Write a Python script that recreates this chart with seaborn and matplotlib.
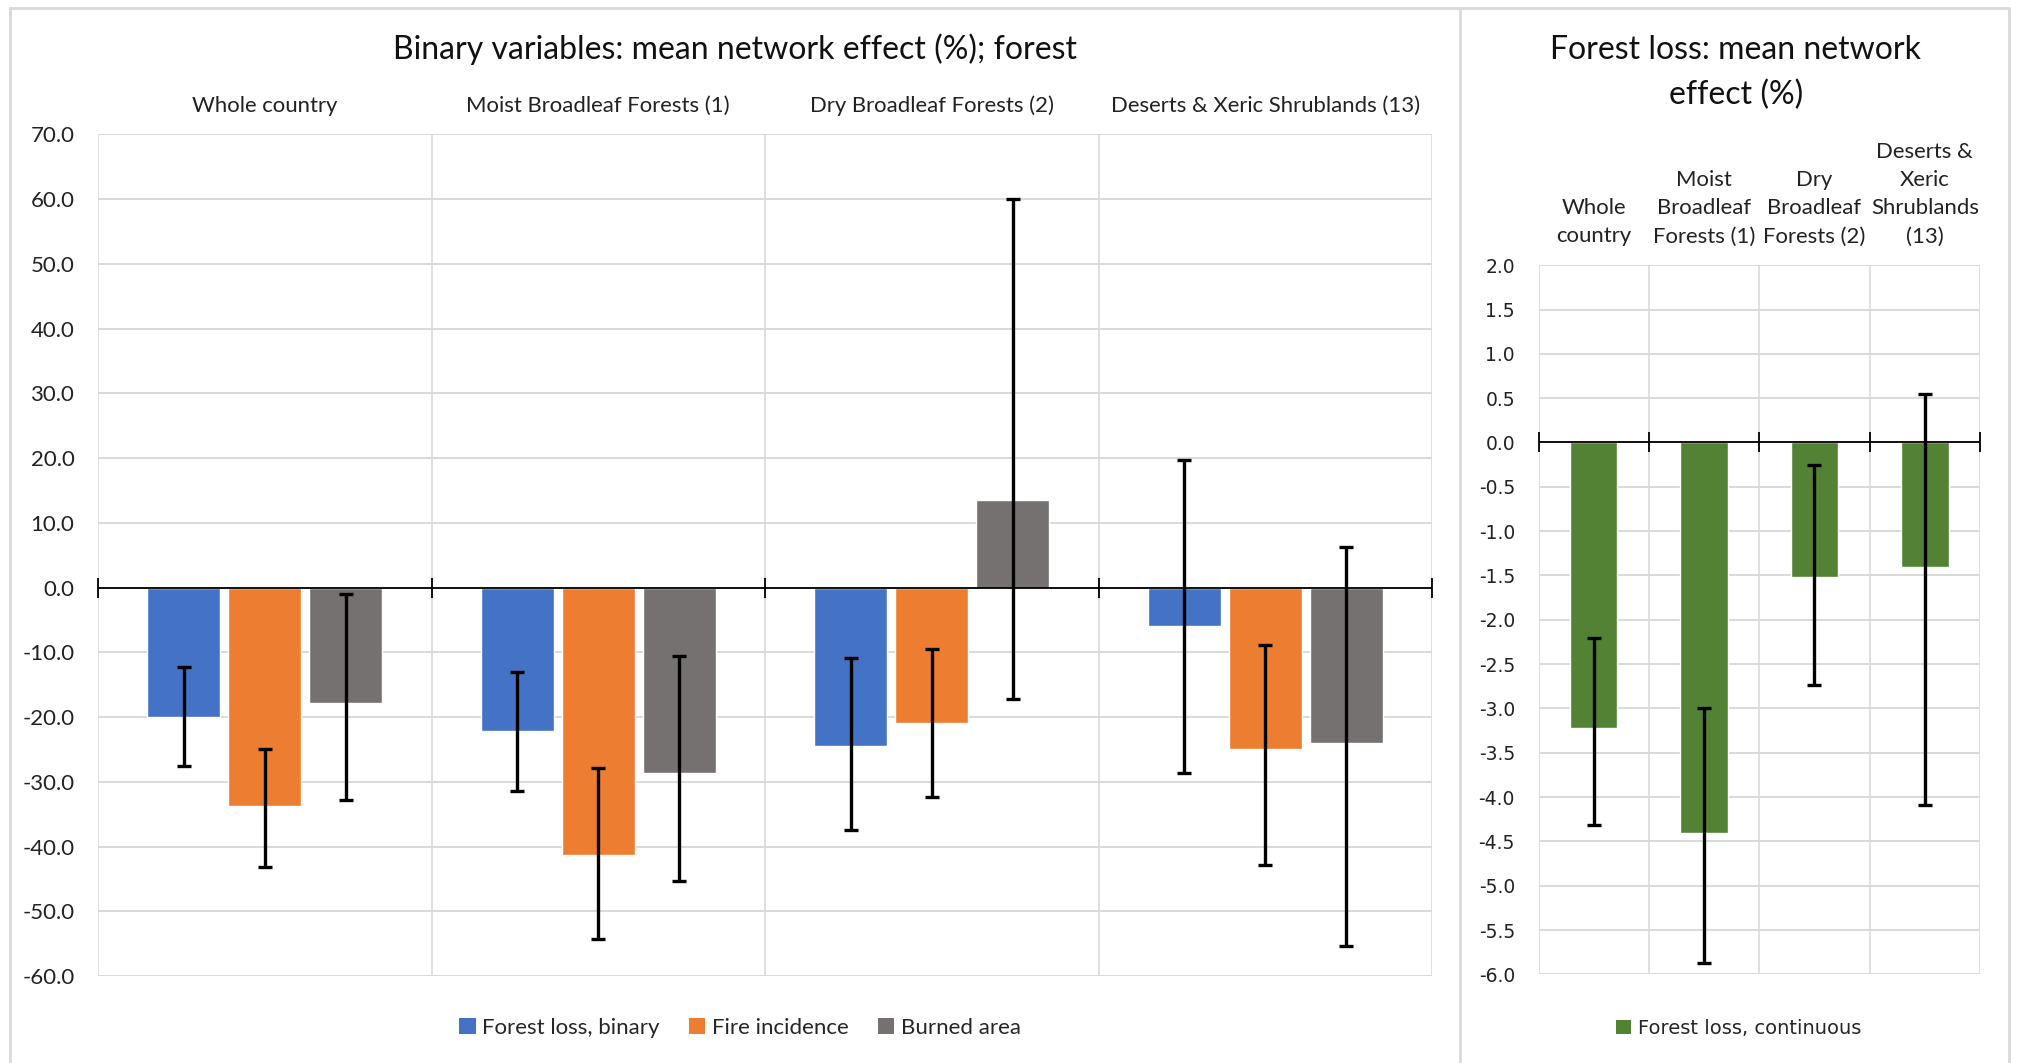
import matplotlib
matplotlib.use("Agg")
import matplotlib.pyplot as plt
from matplotlib.lines import Line2D
from matplotlib.patches import Patch
from matplotlib.ticker import StrMethodFormatter
import pandas as pd
import seaborn as sns

# ---- data -------------------------------------------------------------
regions = ["Whole country", "Moist Broadleaf Forests (1)",
           "Dry Broadleaf Forests (2)", "Deserts & Xeric Shrublands (13)"]
regions_wrapped = ["Whole\ncountry", "Moist\nBroadleaf\nForests (1)",
                   "Dry\nBroadleaf\nForests (2)", "Deserts &\nXeric\nShrublands\n(13)"]

binary_series = ["Forest loss, binary", "Fire incidence", "Burned area"]

forest_loss_binary = [-20.0, -22.1, -24.5, -6.0]
forest_loss_binary_lo = [-27.5, -31.4, -37.5, -28.7]
forest_loss_binary_hi = [-12.2, -13.1, -10.9, 19.7]

fire_incidence = [-33.7, -41.3, -20.9, -24.9]
fire_incidence_lo = [-43.1, -54.3, -32.4, -42.8]
fire_incidence_hi = [-24.9, -27.8, -9.5, -8.9]

burned_area = [-17.9, -28.7, 13.5, -24.0]
burned_area_lo = [-32.8, -45.4, -17.2, -55.4]
burned_area_hi = [-1.0, -10.6, 60.0, 6.3]

continuous_series = "Forest loss, continuous"
forest_loss_continuous = [-3.22, -4.41, -1.52, -1.40]
forest_loss_continuous_lo = [-4.31, -5.87, -2.74, -4.09]
forest_loss_continuous_hi = [-2.20, -3.00, -0.25, 0.55]

binary_colors = ["#4472C4", "#ED7D31", "#767171"]
continuous_color = "#548235"
grid_color = "#D9D9D9"

# ---- style ------------------------------------------------------------
sns.set_theme(style="white")
plt.rcParams["font.family"] = ["Lato", "DejaVu Sans"]
plt.rcParams["axes.unicode_minus"] = False

W, H = 2017, 1063
fig = plt.figure(figsize=(W / 100, H / 100), dpi=100)
fig.patch.set_facecolor("white")


def fx(px):
    return px / W


def fy(py):
    return 1 - py / H


# ---- left panel: binary variables ----------------------------------------
ax1 = fig.add_axes([fx(98), fy(976), fx(1432) - fx(98), fy(134.4) - fy(976)])

values = [forest_loss_binary, fire_incidence, burned_area]
lows = [forest_loss_binary_lo, fire_incidence_lo, burned_area_lo]
highs = [forest_loss_binary_hi, fire_incidence_hi, burned_area_hi]

rows = []
for name, vals in zip(binary_series, values):
    for reg, v in zip(regions, vals):
        rows.append({"region": reg, "series": name, "value": v})
df_bin = pd.DataFrame(rows)

sns.barplot(data=df_bin, x="region", y="value", hue="series", order=regions,
            hue_order=binary_series, palette=binary_colors, width=0.73, gap=0.1,
            errorbar=None, saturation=1, legend=False, ax=ax1, zorder=3)

for cont, vals, lo, hi in zip(ax1.containers, values, lows, highs):
    xs = [b.get_x() + b.get_width() / 2 for b in cont]
    err = [[v - l for v, l in zip(vals, lo)], [h - v for v, h in zip(vals, hi)]]
    ax1.errorbar(xs, vals, yerr=err, fmt="none", ecolor="black",
                 elinewidth=2.4, capsize=5, capthick=2.4, zorder=5)


def style_axis(ax, ylim, yticks, fmt, tick_font, label_font, label_size, tick_size,
               label_spacing=1.25):
    ax.set_xlim(-0.5, len(regions) - 0.5)
    ax.set_ylim(*ylim)
    ax.set_yticks(yticks)
    ax.yaxis.set_major_formatter(StrMethodFormatter(fmt))
    bounds = [i - 0.5 for i in range(len(regions) + 1)]
    ax.set_xticks(bounds, minor=True)
    ax.grid(axis="y", which="major", color=grid_color, lw=1.4, zorder=0)
    ax.grid(axis="x", which="minor", color=grid_color, lw=1.2, zorder=0)
    ax.grid(axis="x", which="major", visible=False)
    for s in ax.spines.values():
        s.set_visible(False)
    ax.axhline(0, color="black", lw=1.3, zorder=4)
    ax.plot(bounds, [0] * len(bounds), ls="none", marker="|", markersize=15,
            mew=1.3, color="black", zorder=4, clip_on=False)
    ax.set_xlabel("")
    ax.set_ylabel("")
    ax.xaxis.set_ticks_position("top")
    ax.tick_params(axis="x", which="both", length=0, top=True, bottom=False,
                   labeltop=True, labelbottom=False, pad=13.5)
    ax.tick_params(axis="y", length=0, pad=17)
    for t in ax.get_yticklabels():
        t.set_fontfamily(tick_font)
        t.set_fontsize(tick_size)
        t.set_color("#222222")
    for t in ax.get_xticklabels():
        t.set_fontfamily(label_font)
        t.set_fontsize(label_size)
        t.set_color("#222222")
        t.set_linespacing(label_spacing)


ax1.set_xticks(range(len(regions)))
ax1.set_xticklabels(regions)
style_axis(ax1, (-60, 70), list(range(-60, 71, 10)), "{x:.1f}",
           "Lato", "Lato", 15.9, 16)

# ---- right panel: continuous forest loss ---------------------------------
ax2 = fig.add_axes([fx(1538.5), fy(974.4), fx(1980) - fx(1538.5), fy(265.2) - fy(974.4)])

df_cont = pd.DataFrame({"region": regions, "value": forest_loss_continuous})
sns.barplot(data=df_cont, x="region", y="value", order=regions,
            color=continuous_color, width=0.43, errorbar=None, saturation=1,
            ax=ax2, zorder=3)
cont = ax2.containers[0]
xs = [b.get_x() + b.get_width() / 2 for b in cont]
err = [[v - l for v, l in zip(forest_loss_continuous, forest_loss_continuous_lo)],
       [h - v for v, h in zip(forest_loss_continuous, forest_loss_continuous_hi)]]
ax2.errorbar(xs, forest_loss_continuous, yerr=err, fmt="none", ecolor="black",
             elinewidth=2.4, capsize=5, capthick=2.4, zorder=5)

ax2.set_xticks(range(len(regions)))
ax2.set_xticklabels(regions_wrapped)
yt = [i / 2 for i in range(-12, 5)]
style_axis(ax2, (-6, 2), yt, "{x:.1f}", "DejaVu Sans", "Lato", 15.9, 13.5,
           label_spacing=1.5)

# ---- titles -------------------------------------------------------------
fig.text(fx(735), fy(49), "Binary variables: mean network effect (%); forest",
         ha="center", va="center", fontsize=23, color="#111111", family="Lato")
fig.text(fx(1736), fy(73), "Forest loss: mean network\neffect (%)",
         ha="center", va="center", fontsize=23, color="#111111", family="Lato",
         linespacing=1.6)

# ---- legends ------------------------------------------------------------
h1 = [Patch(facecolor=c, edgecolor="none") for c in binary_colors]
fig.legend(h1, binary_series, loc="center", bbox_to_anchor=(fx(740), fy(1028)),
           ncol=3, frameon=False, handlelength=0.75, handleheight=0.75,
           handletextpad=0.3, columnspacing=1.3,
           prop={"family": "Lato", "size": 16})
h2 = [Patch(facecolor=continuous_color, edgecolor="none")]
fig.legend(h2, [continuous_series], loc="center", bbox_to_anchor=(fx(1739), fy(1028)),
           ncol=1, frameon=False, handlelength=0.75, handleheight=0.75,
           handletextpad=0.4, prop={"family": "DejaVu Sans", "size": 14})

# ---- panel frames -------------------------------------------------------
frame = dict(color=grid_color, lw=2, transform=fig.transFigure)
fig.add_artist(Line2D([fx(10), fx(2009)], [fy(8), fy(8)], **frame))
fig.add_artist(Line2D([fx(10), fx(10)], [fy(8), 0], **frame))
fig.add_artist(Line2D([fx(1460), fx(1460)], [fy(8), 0], **frame))
fig.add_artist(Line2D([fx(2009), fx(2009)], [fy(8), 0], **frame))

fig.savefig("out.png", dpi=100, facecolor="white")
